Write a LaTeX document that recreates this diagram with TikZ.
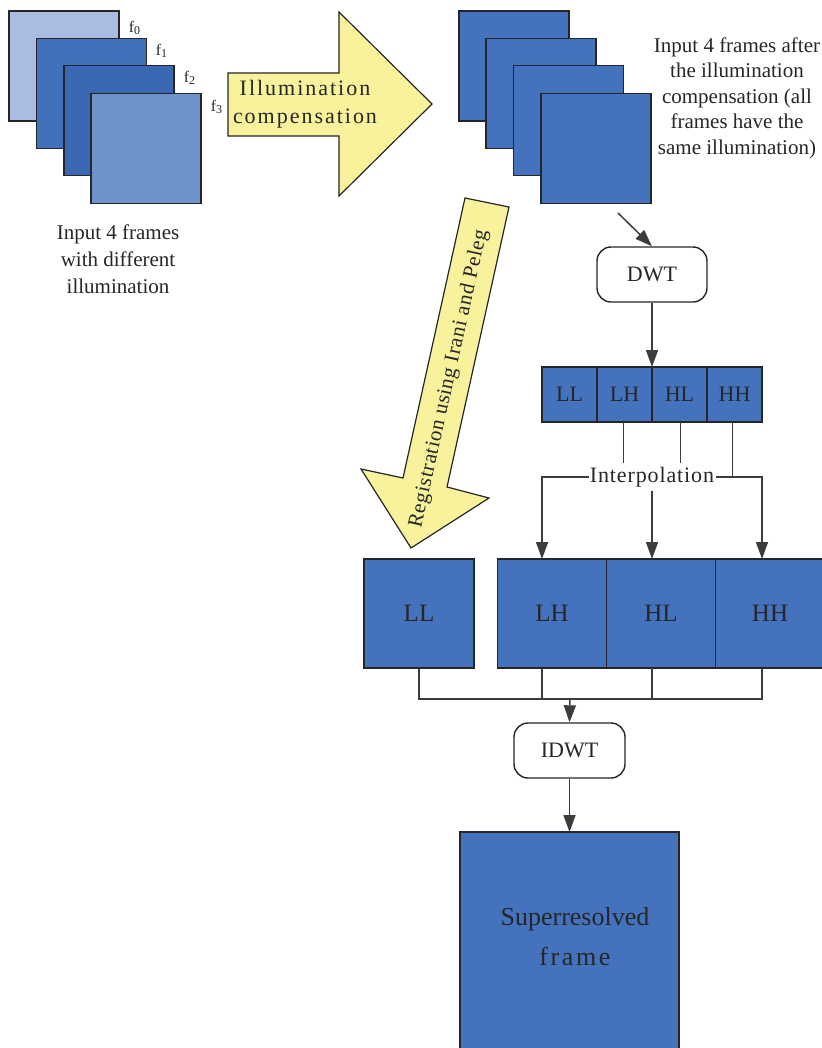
\documentclass[tikz,border=0pt]{standalone}
\usepackage{fontspec}
\setmainfont{Liberation Serif}
\usetikzlibrary{arrows.meta,positioning,calc}
\definecolor{frameblue}{RGB}{68,114,189}
\definecolor{frameA}{RGB}{169,189,227}
\definecolor{frameB}{RGB}{66,112,186}
\definecolor{frameC}{RGB}{58,104,178}
\definecolor{frameD}{RGB}{110,147,203}
\definecolor{arrowyellow}{RGB}{247,242,155}
\definecolor{edgegray}{RGB}{38,38,38}
\definecolor{wiregray}{RGB}{60,60,60}
\tikzset{
  frm/.style={rectangle,draw=edgegray,line width=0.8pt,fill=frameblue,
              minimum width=55pt,minimum height=55pt,inner sep=0pt,outer sep=0pt},
  cell/.style={frm,minimum width=27.5pt,minimum height=27.5pt,text=edgegray,
               font=\fontsize{11}{13}\selectfont},
  bigcell/.style={frm,minimum width=54.5pt,minimum height=54.5pt,text=edgegray,
                  font=\fontsize{12.5}{15}\selectfont},
  rbox/.style={rectangle,rounded corners=7pt,draw=edgegray,fill=white,line width=0.7pt,
               minimum width=55pt,minimum height=27.5pt,inner sep=0pt,text=edgegray,
               font=\fontsize{11}{13}\selectfont},
  desc/.style={align=center,text=edgegray,font=\fontsize{10.5}{13}\selectfont},
  flab/.style={text=edgegray,inner sep=0pt,font=\fontsize{8}{9}\selectfont},
  bigarrow/.style={draw=edgegray,fill=arrowyellow,line width=0.6pt,line join=miter},
  fl/.style={-{Triangle[length=8.5pt,width=6pt]},draw=wiregray,line width=0.75pt},
  wire/.style={draw=wiregray,line width=0.75pt},
}

\begin{document}
\begin{tikzpicture}[x=0.5pt,y=-0.5pt]
  \useasboundingbox (0,0) rectangle (822,1048);
  % input frames
  \node[frm,fill=frameA] (in0) at (64,66) {};
  \node[frm,fill=frameB] (in1) at (91.5,93.5) {};
  \node[frm,fill=frameC] (in2) at (119,120.5) {};
  \node[frm,fill=frameD] (in3) at (146,148.5) {};
  \node[flab] (lf0) at (135,28) {f\textsubscript{0}};
  \node[flab] (lf1) at (162,51) {f\textsubscript{1}};
  \node[flab] (lf2) at (190,78) {f\textsubscript{2}};
  \node[flab] (lf3) at (217,107) {f\textsubscript{3}};
  \node[desc,font=\fontsize{10.5}{13.5}\selectfont] (indesc) at (118,259)
    {Input 4 frames\\with different\\illumination};
  % illumination compensation
  \draw[bigarrow] (228,73) -- (339,73) -- (339,12) -- (432,104) -- (339,196)
    -- (339,136) -- (228,136) -- cycle;
  \node[desc,font=\fontsize{11}{14}\selectfont\addfontfeatures{LetterSpace=9}] (illum) at (305,104)
    {Illumination\\compensation};
  % compensated frames
  \node[frm] (cf0) at (514,66) {};
  \node[frm] (cf1) at (541,93.5) {};
  \node[frm] (cf2) at (568.5,120.5) {};
  \node[frm] (cf3) at (596,148.5) {};
  \node[desc,font=\fontsize{10.5}{12.75}\selectfont] (cfdesc) at (737,98)
    {Input 4 frames after\\the illumination\\compensation (all\\frames have the\\same illumination)};
  % registration
  \draw[bigarrow] (465,198) -- (509,207) -- (447,487) -- (489,498) -- (411,548)
    -- (361,469) -- (403,478) -- cycle;
  \node[text=edgegray,rotate=77.5,font=\fontsize{10.5}{12}\selectfont\addfontfeatures{LetterSpace=3}]
    (reg) at (449,379) {Registration using Irani and Peleg};
  % DWT
  \coordinate (cfout) at (618,213);
  \node[rbox] (dwt) at (652,274.5) {DWT};
  \draw[fl] (cfout) -- (dwt.north);
  \node[cell] (sLL) at (569.5,394.5) {LL};
  \node[cell,right=0pt of sLL] (sLH) {LH};
  \node[cell,right=0pt of sLH] (sHL) {HL};
  \node[cell,right=0pt of sHL] (sHH) {HH};
  \draw[fl] (dwt.south) -- (sLH.north east);
  % interpolation
  \node[text=edgegray,inner xsep=0.5pt,inner ysep=2pt,
        font=\fontsize{11}{13}\selectfont\addfontfeatures{LetterSpace=4}] (interp) at (652,477) {Interpolation};
  \coordinate (jl) at (542,477);
  \coordinate (jr) at (762,477);
  \draw[wire] ([xshift=-0.5pt]sLH.south) -- ++(0,41);
  \draw[wire] ([xshift=0.5pt]sHL.south) -- ++(0,41);
  \draw[wire] ([xshift=-1pt]sHH.south) |- (interp.east);
  \node[bigcell,minimum width=55pt] (bLL) at (419,613.5) {LL};
  \node[bigcell] (bLH) at (552,613.5) {LH};
  \node[bigcell,right=0pt of bLH] (bHL) {HL};
  \node[bigcell,right=0pt of bHL] (bHH) {HH};
  \draw[fl] (interp.west) -- (jl) -- (jl |- bLH.north);
  \draw[fl] (interp.south) -- (interp.south |- bHL.north);
  \draw[fl] (interp.east) -- (jr) -- (jr |- bHH.north);
  % IDWT
  \coordinate (jb) at (570,699);
  \node[rbox,minimum width=55.5pt] (idwt) at (569.5,750.5) {IDWT};
  \draw[wire] (bLL.south) |- (jr |- jb) -- (jr |- bHH.south);
  \draw[wire] (jl |- bLH.south) -- (jl |- jb);
  \draw[wire] (interp |- bHL.south) -- (interp |- jb);
  \draw[fl] (jb) -- (idwt.north);
  % output
  \node[frm,minimum width=109.5pt,minimum height=112pt] (out) at (569.5,944) {};
  \node[text=edgegray,align=center,font=\fontsize{13}{20}\selectfont] (outlbl) at (575,937)
    {Superresolved\\{\addfontfeatures{LetterSpace=10}frame}};
  \draw[fl] (idwt.south) -- (out.north);
\end{tikzpicture}
\end{document}
